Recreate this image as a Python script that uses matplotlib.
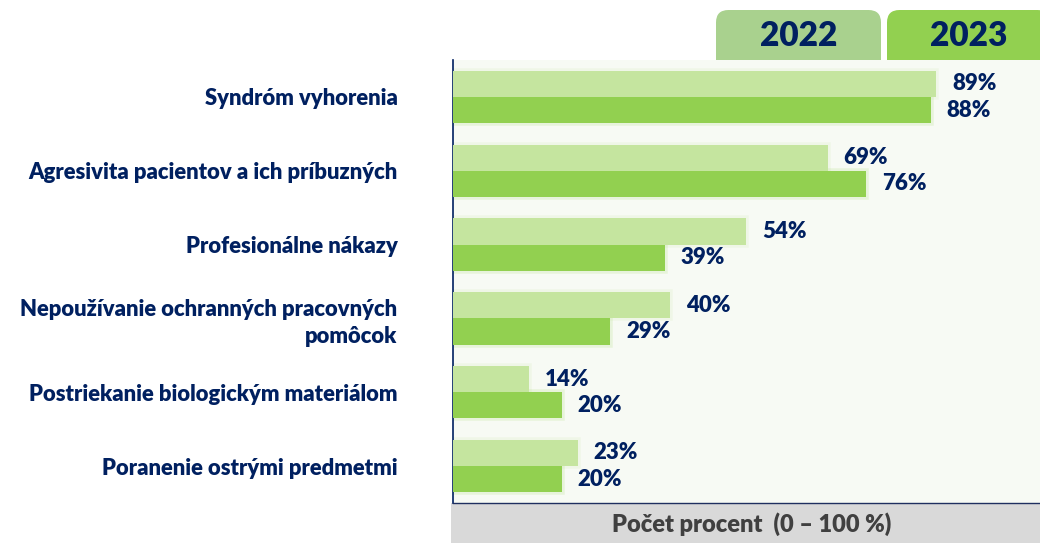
import matplotlib
matplotlib.use("Agg")
import matplotlib.pyplot as plt
from matplotlib.patches import FancyBboxPatch, Rectangle
import numpy as np

categories = [
    "Syndróm vyhorenia",
    "Agresivita pacientov a ich príbuzných",
    "Profesionálne nákazy",
    "Nepoužívanie ochranných pracovných\npomôcok",
    "Postriekanie biologickým materiálom",
    "Poranenie ostrými predmetmi",
]
values_2022 = [89, 69, 54, 40, 14, 23]
values_2023 = [88, 76, 39, 29, 20, 20]
series_names = ["2022", "2023"]
axis_title = "Počet procent  (0 – 100 %)"

NAVY = "#002060"
C22 = "#C5E59F"
C23 = "#92D050"
TAB22 = "#A9D18E"
TAB23 = "#92D050"

plt.rcParams['font.family'] = ['Lato', 'DejaVu Sans']

W, H = 1040, 543
fig = plt.figure(figsize=(W / 100, H / 100), dpi=100)
fig.patch.set_facecolor("white")

ax_left = 453 / W
ax_bottom = (H - 503) / H
ax_top = (H - 60) / H
ax = fig.add_axes([ax_left, ax_bottom, 1 - ax_left, ax_top - ax_bottom])
ax.set_zorder(2)
ax.set_facecolor("#F7FAF4")

y = np.arange(len(categories))
bh = 0.355
# soft glow around bars
for off, vals, col in [(-bh / 2, values_2022, C22), (bh / 2, values_2023, C23)]:
    ax.barh(y + off, vals, height=bh, color=col, edgecolor=col, linewidth=4,
            alpha=0.15, zorder=2)
    ax.barh(y + off, vals, height=bh, color=col, edgecolor="none", zorder=3)

for yi, v in zip(y, values_2022):
    ax.annotate(f"{v}%", (v, yi - bh / 2), xytext=(11.5, 0), textcoords="offset points",
                ha="left", va="center", fontsize=16, fontweight="heavy", color=NAVY)
for yi, v in zip(y, values_2023):
    ax.annotate(f"{v}%", (v, yi + bh / 2), xytext=(11.5, 0), textcoords="offset points",
                ha="left", va="center", fontsize=16, fontweight="heavy", color=NAVY)

ax.set_xlim(0, (W - 453) / 5.43)
ax.set_ylim(len(categories) - 0.5, -0.5)
ax.set_xticks([])
ax.set_yticks(y)
ax.set_yticklabels(categories, fontsize=15.8, fontweight="heavy", color=NAVY, ha="right",
                   multialignment="right", linespacing=1.32)
ax.tick_params(axis="y", length=0, pad=40)
for s in ["top", "right"]:
    ax.spines[s].set_visible(False)
ax.spines["left"].set_color(NAVY)
ax.spines["left"].set_linewidth(1.2)
ax.spines["bottom"].set_color("#1F2F5F")
ax.spines["bottom"].set_linewidth(1.0)

# bottom gray axis-title band
band = Rectangle((451 / W, 0), 1 - 451 / W, 40 / H, transform=fig.transFigure,
                 facecolor="#D9D9D9", edgecolor="none", zorder=1)
fig.patches.append(band)
fig.text(752 / W, (H - 524) / H, axis_title, ha="center", va="center",
         fontsize=17, fontweight="heavy", color="#404040", zorder=3)

# tabs
def tab(x0, x1, color, label):
    p = FancyBboxPatch((x0 / W, (H - 75) / H), (x1 - x0) / W, 65 / H,
                       boxstyle="round,pad=0,rounding_size=0.012",
                       transform=fig.transFigure, facecolor=color, edgecolor="none",
                       zorder=1, mutation_aspect=W / H)
    fig.patches.append(p)
    fig.text((x0 + x1) / 2 / W, (H - 36) / H, label, ha="center", va="center",
             fontsize=24, fontweight="heavy", color=NAVY, zorder=3)

tab(716, 881, TAB22, series_names[0])
tab(887, 1050, TAB23, series_names[1])

fig.savefig("out.png", dpi=100)
